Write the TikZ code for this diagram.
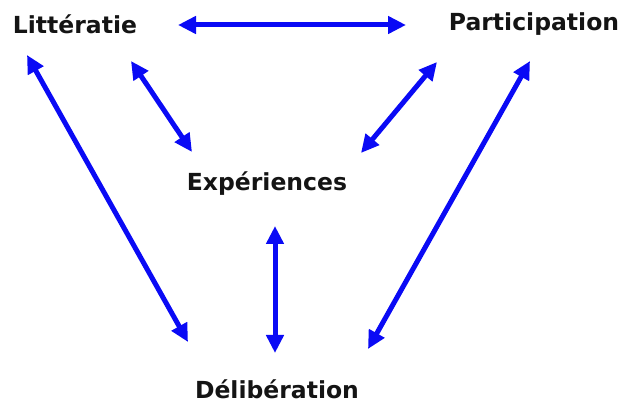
\documentclass[tikz,border=0pt]{standalone}
\usepackage{fontspec}
\setmainfont{DejaVu Sans}
\usetikzlibrary{arrows.meta}
\definecolor{arrowblue}{RGB}{10,10,245}
\definecolor{txt}{RGB}{20,20,20}
\tikzset{
  lbl/.style={font=\bfseries\fontsize{23.5}{27}\selectfont, text=txt, inner sep=0pt},
  link/.style={draw=arrowblue, line width=5pt, {Triangle[length=18pt,width=17pt]}-{Triangle[length=18pt,width=17pt]}}
}
\begin{document}
\begin{tikzpicture}[x=1pt,y=-1pt]
\useasboundingbox (0,0) rectangle (625,403);
\node[lbl] (lit) at (75,24) {Littératie};
\node[lbl] (par) at (534,24) {Participation};
\node[lbl] (exp) at (267,184) {Expériences};
\node[lbl] (del) at (277,389) {Délibération};
\coordinate (litR) at (178,25);
\coordinate (parL) at (406,25);
\coordinate (litB1) at (27,55);
\coordinate (litB2) at (131,61);
\coordinate (expL) at (192,152);
\coordinate (expR) at (361,153);
\coordinate (parB1) at (437,62);
\coordinate (parB2) at (530,61);
\coordinate (expB) at (275,226);
\coordinate (delT) at (275,353);
\coordinate (delL) at (188,342);
\coordinate (delR) at (368,349);
\draw[link] (litR) -- (parL);
\draw[link] (litB1) -- (delL);
\draw[link] (litB2) -- (expL);
\draw[link] (parB1) -- (expR);
\draw[link] (parB2) -- (delR);
\draw[link] (expB) -- (delT);
\end{tikzpicture}
\end{document}
